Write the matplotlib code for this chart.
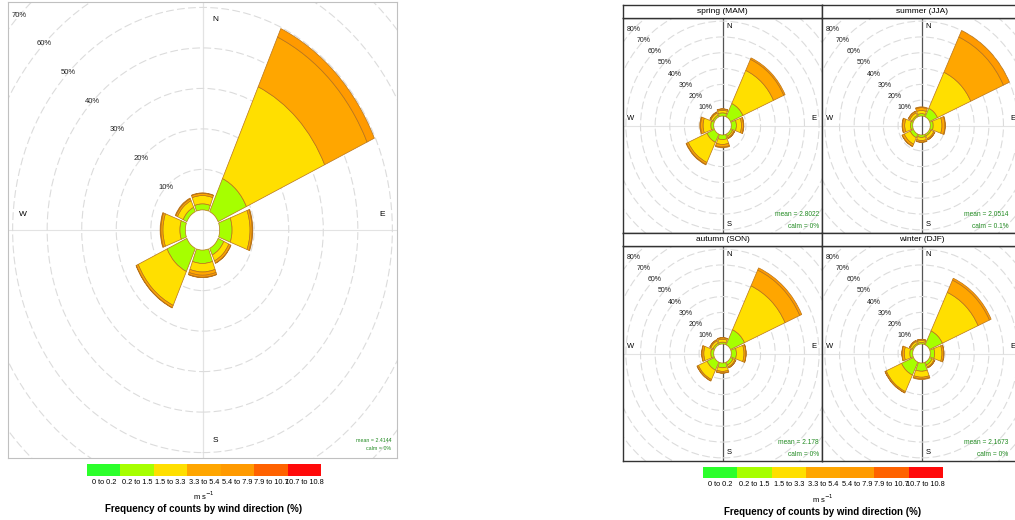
import numpy as np
import matplotlib
matplotlib.use("Agg")
import matplotlib.pyplot as plt
from matplotlib.patches import Wedge, Circle

plt.rcParams['font.family'] = ['Liberation Sans Narrow', 'Liberation Sans', 'DejaVu Sans']

# ---- data ----
directions = [0, 45, 90, 135, 180, 225, 270, 315]
speed_bins = ["0 to 0.2", "0.2 to 1.5", "1.5 to 3.3", "3.3 to 5.4",
              "5.4 to 7.9", "7.9 to 10.7", "10.7 to 10.8"]
bin_colours = ["#2bff2b", "#a6ff00", "#ffdf00", "#ffa600",
               "#ff9a00", "#ff6200", "#ff0a0a"]

# frequency (%) per direction (rows N..NW) and speed bin (columns)
all_year = [
    [0, 1.5, 2.05, 0.55, 0.1, 0, 0],
    [0, 9.0, 24.9, 13.5, 2.3, 0, 0],
    [0, 3.6, 5.2, 0.6, 0.2, 0, 0],
    [0, 1.8, 1.6, 0.6, 0.1, 0, 0],
    [0, 3.3, 2.1, 0.8, 0.5, 0.1, 0],
    [0, 6.3, 9.2, 0.6, 0.1, 0, 0],
    [0, 1.6, 4.9, 0.6, 0.2, 0, 0],
    [0, 1.2, 1.8, 0.5, 0.2, 0, 0],
]
spring = [
    [0, 2.0, 1.6, 0.8, 0.2, 0, 0],
    [0, 9.3, 23.0, 7.7, 1.0, 0, 0],
    [0, 3.5, 3.5, 1.3, 0.3, 0, 0],
    [0, 1.5, 1.0, 0.5, 0.1, 0, 0],
    [0, 2.9, 3.1, 1.6, 0.5, 0, 0],
    [0, 5.7, 14.0, 1.3, 0.4, 0, 0],
    [0, 2.0, 5.3, 1.7, 0.5, 0, 0],
    [0, 1.2, 1.5, 0.6, 0.2, 0, 0],
]
summer = [
    [0, 1.5, 2.0, 1.8, 0.5, 0, 0],
    [0, 6.0, 25.0, 24.5, 4.5, 0, 0],
    [0, 2.0, 6.0, 2.0, 0.4, 0, 0],
    [0, 1.2, 2.0, 0.8, 0.1, 0, 0],
    [0, 1.5, 2.0, 1.0, 0.2, 0, 0],
    [0, 2.5, 4.5, 1.5, 0.2, 0, 0],
    [0, 1.5, 4.0, 1.5, 0.3, 0, 0],
    [0, 1.0, 1.8, 1.0, 0.2, 0, 0],
]
autumn = [
    [0, 1.2, 1.8, 0.9, 0.2, 0, 0],
    [0, 10.5, 30.5, 11.0, 1.5, 0, 0],
    [0, 3.5, 5.2, 1.3, 0.2, 0, 0],
    [0, 2.0, 1.3, 0.7, 0.1, 0, 0],
    [0, 3.0, 2.3, 1.0, 0.2, 0, 0],
    [0, 5.6, 6.5, 0.9, 0.2, 0, 0],
    [0, 2.0, 4.8, 1.3, 0.2, 0, 0],
    [0, 1.2, 1.6, 0.7, 0.1, 0, 0],
]
winter = [
    [0, 1.0, 1.2, 0.7, 0.1, 0, 0],
    [0, 9.7, 26.8, 8.5, 1.3, 0, 0],
    [0, 3.0, 5.0, 1.2, 0.2, 0, 0],
    [0, 2.0, 1.4, 0.6, 0.1, 0, 0],
    [0, 5.2, 3.8, 1.0, 0.5, 0, 0],
    [0, 9.0, 11.5, 0.8, 0.2, 0, 0],
    [0, 2.0, 3.8, 1.5, 0.2, 0, 0],
    [0, 1.0, 1.4, 0.6, 0.1, 0, 0],
]
season_names = ["spring (MAM)", "summer (JJA)", "autumn (SON)", "winter (DJF)"]
season_means = ["mean = 2.8022", "mean = 2.0514", "mean = 2.178", "mean = 2.1673"]
season_calms = ["calm = 0%", "calm = 0.1%", "calm = 0%", "calm = 0%"]
year_mean = "mean = 2.4144"
year_calm = "calm = 0%"

W, H = 1015, 520
EDGE = "#b8741a"
HALF = 20.5   # half width of each wedge in degrees


def box(x, y, w, h):
    """pixel box (top-left origin) -> figure fraction rect"""
    return [x / W, (H - y - h) / H, w / W, h / H]


def draw_rose(ax, freq, max_freq, ring_max, mean_txt, calm_txt, vcol,
              lab_fs, ring_fs, txt_fs, txt_x=1.0):
    off = 0.1 * max_freq
    upper = max_freq + off
    lim = 1.03 * upper
    ax.set_xlim(-lim, lim)
    ax.set_ylim(-lim, lim)
    ax.set_xticks([])
    ax.set_yticks([])

    ax.axhline(0, color="#e3e3e3", lw=0.8, zorder=0)
    ax.axvline(0, color=vcol, lw=0.9, zorder=0)
    for p in range(10, ring_max + 1, 10):
        ax.add_patch(Circle((0, 0), off + p, fill=False, ec="#dcdcdc",
                            lw=0.8, ls=(0, (7, 3)), zorder=1))
        r = (off + p) * np.sqrt(0.5)
        ax.text(-r, r, f"{p}%", fontsize=ring_fs, ha="center", va="center",
                color="#222222", zorder=3)

    for d, row in zip(directions, freq):
        cum = off
        for val, col in zip(row, bin_colours):
            if val <= 0:
                continue
            ax.add_patch(Wedge((0, 0), cum + val, 90 - d - HALF, 90 - d + HALF,
                               width=val, fc=col, ec=EDGE, lw=0.5, zorder=2))
            cum += val

    ax.text(0.07 * upper, 0.95 * upper, "N", fontsize=lab_fs, ha="center", va="center")
    ax.text(0.07 * upper, -0.95 * upper, "S", fontsize=lab_fs, ha="center", va="center")
    ax.text(-0.95 * upper, 0.07 * upper, "W", fontsize=lab_fs, ha="center", va="center")
    ax.text(0.95 * upper, 0.07 * upper, "E", fontsize=lab_fs, ha="center", va="center")
    ax.text(txt_x * upper, -upper, mean_txt + "\n" + calm_txt, fontsize=txt_fs,
            ha="right", va="bottom", color="#228b22", linespacing=1.9,
            multialignment="right")


def draw_key(fig, rect, xc, y_units, y_title):
    kax = fig.add_axes(rect)
    kax.bar(np.arange(len(bin_colours)), 1, width=1.0, color=bin_colours)
    kax.set_xlim(-0.5, len(bin_colours) - 0.5)
    kax.set_ylim(0, 1)
    kax.set_yticks([])
    kax.set_xticks(np.arange(len(speed_bins)))
    kax.set_xticklabels(speed_bins, fontsize=5.3)
    kax.tick_params(axis="x", length=0, pad=2)
    for s in kax.spines.values():
        s.set_visible(False)
    fig.text(xc / W, 1 - y_units / H, "m s$^{-1}$", fontsize=5.5,
             ha="center", va="center")
    fig.text(xc / W, 1 - y_title / H, "Frequency of counts by wind direction (%)",
             fontsize=7, fontweight="bold", ha="center", va="center")


fig = plt.figure(figsize=(W / 100, H / 100), dpi=100)

# ---- single wind rose (left) ----
ax = fig.add_axes(box(8, 2, 389, 456))
year_max = max(sum(r) for r in all_year)
draw_rose(ax, all_year, year_max, 70, year_mean, year_calm, "#e3e3e3",
          6, 5.5, 3.8)
for s in ax.spines.values():
    s.set_color("#c0c0c0")
    s.set_linewidth(0.8)
draw_key(fig, box(87, 464, 234, 12), 204, 496, 509)

# ---- seasonal panels (right) ----
seasons = [spring, summer, autumn, winter]
season_max = max(sum(r) for f in seasons for r in f)
panel_x = [623, 822, 623, 822]
panel_y = [18, 18, 246, 246]
text_x = [1.0, 0.9, 1.0, 0.9]
for i, freq in enumerate(seasons):
    x0, y0 = panel_x[i], panel_y[i]
    pax = fig.add_axes(box(x0, y0, 199, 215))
    draw_rose(pax, freq, season_max, 80, season_means[i], season_calms[i],
              "#555555", 5.5, 5, 4.8, text_x[i])
    for s in pax.spines.values():
        s.set_color("#333333")
        s.set_linewidth(1.0)
    sax = fig.add_axes(box(x0, y0 - 13, 199, 13))
    sax.set_xticks([])
    sax.set_yticks([])
    sax.set_facecolor("white")
    for s in sax.spines.values():
        s.set_color("#333333")
        s.set_linewidth(1.0)
    sax.text(0.5, 0.5, season_names[i], fontsize=6, ha="center", va="center",
             transform=sax.transAxes)

draw_key(fig, box(703, 467, 240, 11), 823, 499, 512)

fig.savefig("out.png", dpi=100)
